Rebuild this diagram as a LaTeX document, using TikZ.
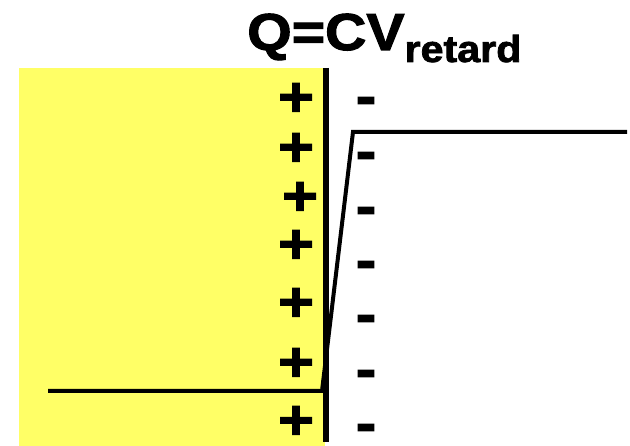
\documentclass[tikz,border=0pt]{standalone}
\usepackage{fontspec}
\newfontfamily\heavy[FakeBold=2,FakeStretch=1.1]{Liberation Sans Bold}
\definecolor{ylw}{RGB}{255,255,102}
\tikzset{
  sign/.style={inner sep=0pt, anchor=base, font=\heavy\fontsize{56}{56}\selectfont},
  curve/.style={line width=4pt, line join=miter},
}
\begin{document}
\begin{tikzpicture}[x=1pt,y=-1pt]
\useasboundingbox (0,0) rectangle (630,446);
\fill[ylw] (19,68) rectangle (325,446);
\draw[line width=6pt] (326,68) -- (326,442);
% title
\node[inner sep=0pt, anchor=base west] (title) at (247,50)
  {\heavy\fontsize{52}{52}\selectfont Q=CV\raisebox{-12pt}{\fontsize{37.5}{37.5}\selectfont retard}};
% plus signs
\foreach \y/\x [count=\i] in {97/296,147/296,196/300,244/296,302/296,362/296,420/296}
  \node[sign] (p\i) at (\x,\y+19) {+};
% minus signs
\foreach \y [count=\i] in {100,155,210,264,318,373,427}
  \node[sign] (m\i) at (366,\y+15) {-};
% potential curve
\coordinate (a) at (48,391);
\coordinate (b) at (322,391);
\coordinate (c) at (353,132);
\coordinate (d) at (627,132);
\draw[curve] (a) -- (b) -- (c) -- (d);
\end{tikzpicture}
\end{document}
